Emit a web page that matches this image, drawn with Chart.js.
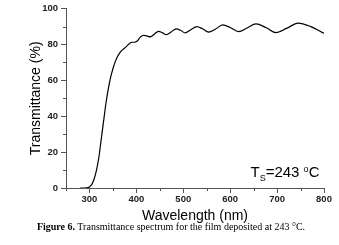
<!DOCTYPE html>
<html>
<head>
<meta charset="utf-8">
<script src="https://cdn.jsdelivr.net/npm/chart.js@4/dist/chart.umd.min.js"></script>
<style>
  html, body { margin: 0; padding: 0; background: #fff; }
  .wrap { position: relative; width: 339px; height: 245px; }
  .caption {
    position: absolute; left: 0; width: 342px; top: 221px;
    text-align: center; font: 10px "Liberation Serif", "Times New Roman", serif; color: #000;
    white-space: nowrap;
  }
</style>
</head>
<body>
<div class="wrap">
  <canvas id="spectrum" width="339" height="245"></canvas>
  <div class="caption"><b>Figure 6.</b> Transmittance spectrum for the film deposited at 243 °C.</div>
</div>
<script>
const wavelength = [280, 290, 297, 300, 305, 310, 315, 320, 325, 330, 335, 340, 345, 350, 355, 360, 365, 370, 375, 380,
  385, 390, 396, 402, 408, 415, 422, 430, 438, 447, 456, 464, 474, 485, 495, 504, 516, 529, 541, 554,
  568, 584, 600, 618, 636, 655, 676, 697, 720, 745, 772, 800];
const transmittance = [0, 0, 0.2, 0.6, 2, 5, 10, 17, 27, 37, 47, 55, 61.5, 66.5, 70.5, 73.5, 75.5, 77, 78, 79.3,
  80.5, 81.3, 81.3, 82, 84, 85.2, 84.8, 84.3, 85.8, 87.4, 86.5, 85.5, 87, 88.8, 87.8, 86.5, 88.3, 90, 88.8, 86.9,
  88.5, 91, 89.5, 87.2, 89.2, 91.5, 89.5, 86.7, 89, 92, 90, 86.3];
const xTicks = [300, 400, 500, 600, 700, 800];
const xMinor = [250, 350, 450, 550, 650, 750];
const yTicks = [0, 20, 40, 60, 80, 100];
const yMinor = [10, 30, 50, 70, 90];

const axisColor = '#555';
const tickFont = { family: 'Liberation Sans, Arial, sans-serif', size: 9.5, weight: 'bold' };
const titleFont = { family: 'Liberation Sans, Arial, sans-serif', size: 14, weight: 'normal' };

const extras = {
  id: 'extras',
  afterDraw(chart) {
    const { ctx, scales: { x, y } } = chart;
    ctx.save();
    ctx.strokeStyle = axisColor;
    ctx.lineWidth = 1;
    ctx.beginPath();
    xMinor.forEach((v) => {
      const px = Math.round(x.getPixelForValue(v)) + 0.5;
      ctx.moveTo(px, y.bottom);
      ctx.lineTo(px, y.bottom + 3);
    });
    yMinor.forEach((v) => {
      const py = Math.round(y.getPixelForValue(v)) + 0.5;
      ctx.moveTo(x.left, py);
      ctx.lineTo(x.left - 3, py);
    });
    ctx.stroke();

    // T_S=243 °C label
    ctx.fillStyle = '#000';
    ctx.textBaseline = 'alphabetic';
    const big = '15px Liberation Sans, Arial, sans-serif';
    const small = '9px Liberation Sans, Arial, sans-serif';
    let cx = 250.5;
    const base = 177;
    ctx.font = big; ctx.fillText('T', cx, base); cx += ctx.measureText('T').width;
    ctx.font = small; ctx.fillText('S', cx, base + 3.5); cx += ctx.measureText('S').width;
    ctx.font = big; ctx.fillText('=243 ', cx, base); cx += ctx.measureText('=243 ').width;
    ctx.font = small; ctx.fillText('o', cx, base - 5.5); cx += ctx.measureText('o').width;
    ctx.font = big; ctx.fillText('C', cx, base);
    ctx.restore();
  }
};

new Chart(document.getElementById('spectrum'), {
  type: 'line',
  data: {
    datasets: [{
      data: wavelength.map((w, i) => ({ x: w, y: transmittance[i] })),
      borderColor: '#000',
      borderWidth: 1.2,
      pointRadius: 0,
      tension: 0.4,
      cubicInterpolationMode: 'monotone',
      fill: false
    }]
  },
  options: {
    responsive: false,
    animation: false,
    layout: { padding: { left: 28, right: 15, top: 8, bottom: 20 } },
    plugins: { legend: { display: false }, tooltip: { enabled: false } },
    scales: {
      x: {
        type: 'linear',
        min: 250,
        max: 800,
        afterBuildTicks: (s) => { s.ticks = xTicks.map((v) => ({ value: v })); },
        afterFit: (s) => { s.height = 37; },
        border: { display: true, color: axisColor, width: 1 },
        grid: { drawOnChartArea: false, drawTicks: true, tickLength: 5, tickColor: axisColor },
        ticks: { color: '#222', font: tickFont, padding: 1, maxRotation: 0 },
        title: { display: true, text: 'Wavelength (nm)', color: '#000', font: titleFont, padding: 0 }
      },
      y: {
        min: 0,
        max: 100,
        afterBuildTicks: (s) => { s.ticks = yTicks.map((v) => ({ value: v })); },
        afterFit: (s) => { s.width = 38; },
        border: { display: true, color: axisColor, width: 1 },
        grid: { drawOnChartArea: false, drawTicks: true, tickLength: 5, tickColor: axisColor },
        ticks: { color: '#222', font: tickFont, padding: 3 },
        title: { display: true, text: 'Transmittance (%)', color: '#000', font: titleFont, padding: 0 }
      }
    }
  },
  plugins: [extras]
});
</script>
</body>
</html>
